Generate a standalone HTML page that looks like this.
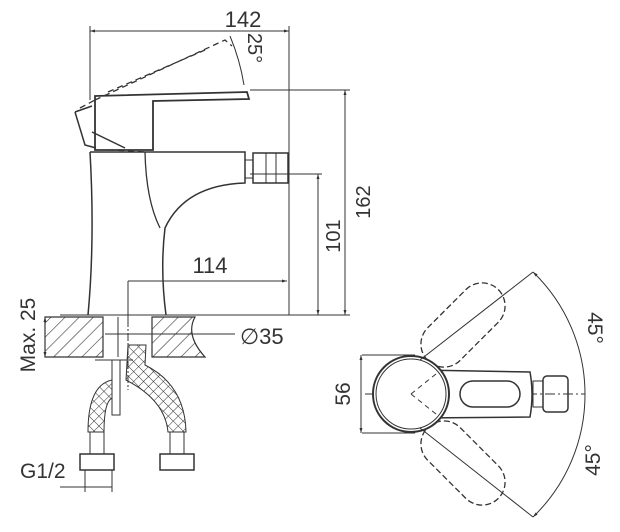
<!DOCTYPE html>
<html><head><style>html,body{margin:0;padding:0;background:#fff}svg{display:block}text{font-family:"Liberation Sans",sans-serif;fill:#333}</style></head>
<body>
<svg width="620" height="532" viewBox="0 0 620 532" xmlns="http://www.w3.org/2000/svg">
<defs>
<pattern id="h" width="10" height="10" patternUnits="userSpaceOnUse" patternTransform="rotate(45)"><line x1="0" y1="0" x2="0" y2="10" stroke="#333" stroke-width="1.2"/></pattern>
<pattern id="x" width="7" height="7" patternUnits="userSpaceOnUse" patternTransform="rotate(45)"><path d="M0 0H7M0 0V7" stroke="#333" stroke-width="1"/></pattern>
<marker id="a" viewBox="0 0 10 10" refX="10" refY="5" markerWidth="7" markerHeight="5" orient="auto-start-reverse"><path d="M0 2L10 5L0 8z" fill="#333"/></marker>
</defs>
<g fill="none" stroke="#333" stroke-width="1">
<line x1="90" y1="31" x2="289" y2="31" marker-start="url(#a)" marker-end="url(#a)"/>
<line x1="90" y1="26" x2="90" y2="100"/>
<line x1="289" y1="26" x2="289" y2="315"/>
<line x1="250" y1="90" x2="350" y2="90"/>
<line x1="345" y1="90" x2="345" y2="315" marker-start="url(#a)" marker-end="url(#a)"/>
<line x1="250" y1="174" x2="322" y2="174"/>
<line x1="318" y1="174" x2="318" y2="315" marker-start="url(#a)" marker-end="url(#a)"/>
<line x1="128" y1="281" x2="287" y2="281" marker-end="url(#a)"/>
<line x1="128" y1="281" x2="128" y2="320"/>
<line x1="60" y1="315" x2="350" y2="315"/>
<path d="M230 36 Q240 60 244 85" />
<path d="M95 96 L247 92 L249 99 L153 101 L153 150 L95 150 Z" stroke-width="1.8"/>
<path d="M75 112 L92 106 M75 112 L85 145 L96 148 M92 132 L125 148" stroke-width="1.5"/>
<path d="M80 108 L95 100 M95 100 L225 40 L232 46 M108 92 L205 50" stroke-dasharray="6,4" stroke-width="1.3"/>
<path d="M108 150 L150 152" stroke-dasharray="6,4"/>
<path d="M90 152 L245 152 L245 183 Q185 185 165 228 Q160 270 166 315" stroke-width="1.5"/>
<path d="M145 152 Q146 200 160 228" stroke-width="1.3"/>
<path d="M90 152 Q95 240 88 315" stroke-width="1.5"/>
<rect x="245" y="160" width="8" height="18"/>
<rect x="253" y="153" width="35" height="30" stroke-width="1.5"/>
<line x1="266" y1="153" x2="266" y2="183"/><line x1="276" y1="153" x2="276" y2="183"/>
<path d="M45 317 L103 317 L103 357 L45 357 Z M152 317 L195 317 Q185 335 205 357 L152 357 Z" fill="url(#h)" stroke-width="1.2"/>
<line x1="45" y1="317" x2="45" y2="357" marker-start="url(#a)" marker-end="url(#a)"/>
<line x1="105" y1="334" x2="235" y2="334"/>
<line x1="128" y1="305" x2="128" y2="390" stroke-dasharray="8,2,2,2"/>
<line x1="118" y1="317" x2="118" y2="357"/>
<path d="M95 360 L133 360 M112 360 L112 415 L120 415 L120 360"/>
<path d="M128 345 L146 345 L145 365 Q185 385 186 432 L168 432 Q165 400 126 380 Z" fill="url(#x)"/>
<path d="M112 380 Q88 385 88 432 L104 432 Q104 402 112 398 Z" fill="url(#x)"/>
<rect x="90" y="432" width="14" height="22"/><rect x="170" y="432" width="14" height="22"/>
<rect x="80" y="454" width="34" height="16" stroke-width="1.5"/><rect x="160" y="454" width="34" height="16" stroke-width="1.5"/>
<line x1="60" y1="487" x2="112" y2="487"/>
<line x1="85" y1="470" x2="85" y2="492"/><line x1="112" y1="470" x2="112" y2="492"/>
<line x1="362" y1="355" x2="415" y2="355"/><line x1="362" y1="433" x2="415" y2="433"/>
<line x1="361" y1="355" x2="361" y2="433" marker-start="url(#a)" marker-end="url(#a)"/>
<line x1="365" y1="394" x2="585" y2="394" stroke-dasharray="10,3,2,3"/>
<g stroke-dasharray="6,3" stroke-width="1.3">
<rect x="440" y="275" width="46" height="100" rx="23" transform="rotate(45 463 325)"/>
<rect x="440" y="413" width="46" height="100" rx="23" transform="rotate(-45 463 463)"/>
</g>
<path d="M420 370 L530 372 Q534 394 530 417 L420 418" stroke-width="1.5" fill="#fff"/>
<circle cx="411" cy="394" r="38" stroke-width="2" fill="#fff"/>
<circle cx="411" cy="394" r="35"/>
<rect x="460" y="381" width="60" height="26" rx="13" stroke-width="1.5"/>
<rect x="533" y="381" width="10" height="26"/><rect x="543" y="376" width="25" height="36" rx="4" stroke-width="1.5"/>
<path d="M411 394 L436 374 M411 394 L436 414" stroke-dasharray="5,4"/>
<line x1="420" y1="360" x2="533" y2="272"/><line x1="420" y1="428" x2="533" y2="517"/>
<path d="M533 272 A170 170 0 0 1 585 394 A170 170 0 0 1 533 517" marker-start="url(#a)" marker-end="url(#a)"/>
</g>
<text x="243" y="27" font-size="22" text-anchor="middle">142</text>
<text transform="translate(248,48) rotate(90)" font-size="20" text-anchor="middle">25°</text>
<text transform="translate(340,236) rotate(-90)" font-size="20" text-anchor="middle">101</text>
<text transform="translate(370,202) rotate(-90)" font-size="20" text-anchor="middle">162</text>
<text x="210" y="273" font-size="22" text-anchor="middle">114</text>
<text x="240" y="344" font-size="22">∅35</text>
<text transform="translate(35,335) rotate(-90)" font-size="21" text-anchor="middle">Max. 25</text>
<text x="20" y="478" font-size="21">G1/2</text>
<text transform="translate(350,394) rotate(-90)" font-size="21" text-anchor="middle">56</text>
<text transform="translate(588,328) rotate(90)" font-size="21" text-anchor="middle">45°</text>
<text transform="translate(600,460) rotate(-90)" font-size="21" text-anchor="middle">45°</text>
</svg>
</body></html>
